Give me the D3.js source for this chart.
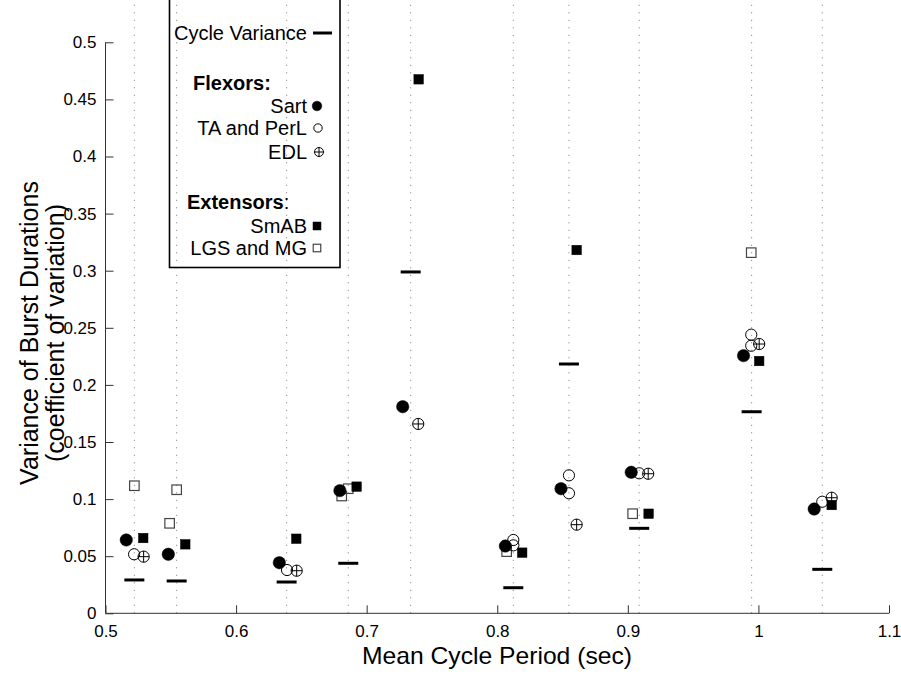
<!DOCTYPE html>
<html>
<head>
<meta charset="utf-8">
<script src="https://cdn.jsdelivr.net/npm/d3@7"></script>
<style>
  body { margin: 0; background: #fff; }
  text { font-family: "Liberation Sans", Arial, sans-serif; fill: #000; }
</style>
</head>
<body>
<script>
// mean cycle period of each preparation and its cycle variance
var cyclePeriod = [0.5221, 0.5545, 0.6387, 0.6859, 0.7337, 0.8123, 0.8549, 0.9087, 0.9948, 1.0489];
var cycleVariance = [0.0292, 0.0283, 0.0274, 0.0438, 0.2989, 0.0224, 0.2183, 0.0744, 0.1765, 0.0385];

// flexors
var sartX = [0.5159, 0.5481, 0.6331, 0.6795, 0.7276, 0.8062, 0.8488, 0.9026, 0.9886, 1.0427];
var sartY = [0.0642, 0.0517, 0.0443, 0.1074, 0.1809, 0.0589, 0.1091, 0.1235, 0.2256, 0.0913];
var taX = [0.5219, 0.6390, 0.8123, 0.8123, 0.8549, 0.8549, 0.9087, 0.9945, 0.9945, 1.0489];
var taY = [0.0517, 0.0379, 0.0642, 0.0595, 0.1208, 0.1051, 0.1226, 0.2440, 0.2343, 0.0977];
var edlX = [0.5292, 0.6464, 0.7395, 0.8608, 0.9156, 1.0006, 1.0561];
var edlY = [0.0496, 0.0373, 0.1658, 0.0776, 0.1222, 0.2358, 0.1012];

// extensors
var smabX = [0.5289, 0.5611, 0.6461, 0.6923, 0.7398, 0.8191, 0.8608, 0.9159, 1.0006, 1.0561];
var smabY = [0.0659, 0.0604, 0.0653, 0.1109, 0.4676, 0.0531, 0.3181, 0.0872, 0.2209, 0.0948];
var lgsX = [0.5221, 0.5545, 0.5491, 0.6809, 0.6859, 0.8072, 0.9037, 0.9945];
var lgsY = [0.1117, 0.1082, 0.0788, 0.1027, 0.1091, 0.0540, 0.0872, 0.3158];

var xTicks = [0.5, 0.6, 0.7, 0.8, 0.9, 1, 1.1];
var yTicks = [0, 0.05, 0.1, 0.15, 0.2, 0.25, 0.3, 0.35, 0.4, 0.45, 0.5];

var W = 901, H = 675;
var svg = d3.select("body").append("svg")
  .attr("width", W)
  .attr("height", H);

var x = d3.scaleLinear().domain([0.5, 1.1]).range([105.5, 889]);
var y = d3.scaleLinear().domain([0, 0.5]).range([613.3, 42.3]);

function zip(xs, ys) {
  return xs.map(function(v, i) { return { x: v, y: ys[i] }; });
}

// dotted lines at each mean cycle period
svg.selectAll(".cycle")
  .data(cyclePeriod)
  .enter()
  .append("line")
  .attr("class", "cycle")
  .attr("x1", function(d) { return x(d); })
  .attr("x2", function(d) { return x(d); })
  .attr("y1", y(0))
  .attr("y2", y(0.54))
  .attr("stroke", "#777")
  .attr("stroke-width", 1)
  .attr("stroke-dasharray", "1,6.5");

// axes
var xAxis = d3.axisBottom(x).tickValues(xTicks).tickFormat(d3.format("~g"))
  .tickSize(-8).tickSizeOuter(0).tickPadding(12);
var yAxis = d3.axisLeft(y).tickValues(yTicks).tickFormat(d3.format("~g"))
  .tickSize(-8).tickSizeOuter(0).tickPadding(9);

var gx = svg.append("g").attr("transform", "translate(0," + y(0) + ")").call(xAxis);
var gy = svg.append("g").attr("transform", "translate(" + x(0.5) + ",0)").call(yAxis);
[gx, gy].forEach(function(g) {
  g.selectAll("path, line").attr("stroke", "#333");
  g.selectAll("text").attr("font-size", 17).attr("font-family", "Liberation Sans, Arial, sans-serif");
});
gx.select(".domain").attr("d", "M" + x(0.5) + ",0H" + x(1.1));
gy.select(".domain").attr("d", "M0," + y(0) + "V" + y(0.5));

// cycle variance dashes
svg.selectAll(".cv")
  .data(zip(cyclePeriod, cycleVariance))
  .enter()
  .append("line")
  .attr("x1", function(d) { return x(d.x) - 10; })
  .attr("x2", function(d) { return x(d.x) + 10; })
  .attr("y1", function(d) { return y(d.y); })
  .attr("y2", function(d) { return y(d.y); })
  .attr("stroke", "#000")
  .attr("stroke-width", 3);

// marker drawing helpers
function square(g, cx, cy, s, filled) {
  g.append("rect")
    .attr("x", cx - s / 2).attr("y", cy - s / 2)
    .attr("width", s).attr("height", s)
    .attr("fill", filled ? "#000" : "none")
    .attr("stroke", filled ? "#000" : "#444")
    .attr("stroke-width", filled ? 0.5 : 1.2);
}
function circle(g, cx, cy, r, filled, crossed) {
  g.append("circle")
    .attr("cx", cx).attr("cy", cy).attr("r", r)
    .attr("fill", filled ? "#000" : "none")
    .attr("stroke", "#000")
    .attr("stroke-width", filled ? 0.5 : 1);
  if (crossed) {
    g.append("line").attr("x1", cx - r).attr("x2", cx + r).attr("y1", cy).attr("y2", cy)
      .attr("stroke", "#000").attr("stroke-width", 1);
    g.append("line").attr("x1", cx).attr("x2", cx).attr("y1", cy - r).attr("y2", cy + r)
      .attr("stroke", "#000").attr("stroke-width", 1);
  }
}

var marks = svg.append("g");
zip(lgsX, lgsY).forEach(function(d) { square(marks, x(d.x), y(d.y), 9.5, false); });
zip(smabX, smabY).forEach(function(d) { square(marks, x(d.x), y(d.y), 9.5, true); });
zip(edlX, edlY).forEach(function(d) { circle(marks, x(d.x), y(d.y), 5.6, false, true); });
zip(taX, taY).forEach(function(d) { circle(marks, x(d.x), y(d.y), 5.6, false, false); });
zip(sartX, sartY).forEach(function(d) { circle(marks, x(d.x), y(d.y), 6.2, true, false); });

// axis titles
svg.append("text")
  .attr("x", 497).attr("y", 664)
  .attr("text-anchor", "middle")
  .attr("font-size", 24)
  .attr("textLength", 270).attr("lengthAdjust", "spacingAndGlyphs")
  .text("Mean Cycle Period (sec)");

var yt = svg.append("g").attr("transform", "translate(0,333) rotate(-90)");
yt.append("text")
  .attr("x", 0).attr("y", 38)
  .attr("text-anchor", "middle")
  .attr("font-size", 25)
  .text("Variance of Burst Durations");
yt.append("text")
  .attr("x", 0).attr("y", 64)
  .attr("text-anchor", "middle")
  .attr("font-size", 25)
  .text("(coefficient of variation)");

// legend
var lg = svg.append("g");
lg.append("rect")
  .attr("x", 169.5).attr("y", -3)
  .attr("width", 170.5).attr("height", 270.5)
  .attr("fill", "none")
  .attr("stroke", "#000")
  .attr("stroke-width", 1.6);

var legendRows = [
  { label: "Cycle Variance", y: 33, kind: "dash" },
  { label: "Flexors:", y: 83, kind: "head", x: 193 },
  { label: "Sart", y: 106, kind: "fc" },
  { label: "TA and PerL", y: 128, kind: "oc" },
  { label: "EDL", y: 152, kind: "xc" },
  { label: "Extensors", y: 202, kind: "head", x: 187 },
  { label: "SmAB", y: 226, kind: "fs" },
  { label: "LGS and MG", y: 248, kind: "os" }
];
legendRows.forEach(function(r) {
  if (r.kind === "head") {
    var t = lg.append("text")
      .attr("x", r.x).attr("y", r.y + 7)
      .attr("font-size", 20);
    if (r.label === "Extensors") {
      t.append("tspan").attr("font-weight", "bold").text("Extensors");
      t.append("tspan").text(":");
    } else {
      t.attr("font-weight", "bold").text(r.label);
    }
    return;
  }
  lg.append("text")
    .attr("x", 307).attr("y", r.y + 7)
    .attr("text-anchor", "end")
    .attr("font-size", 20)
    .text(r.label);
  if (r.kind === "dash") {
    lg.append("line").attr("x1", 313).attr("x2", 332).attr("y1", r.y).attr("y2", r.y)
      .attr("stroke", "#000").attr("stroke-width", 3);
  } else if (r.kind === "fc") {
    circle(lg, 317, r.y, 4.8, true, false);
  } else if (r.kind === "oc") {
    circle(lg, 318, r.y, 4.2, false, false);
  } else if (r.kind === "xc") {
    circle(lg, 319, r.y, 4.5, false, true);
  } else if (r.kind === "fs") {
    square(lg, 317, r.y, 8, true);
  } else if (r.kind === "os") {
    square(lg, 317, r.y, 7.5, false);
  }
});
</script>
</body>
</html>
